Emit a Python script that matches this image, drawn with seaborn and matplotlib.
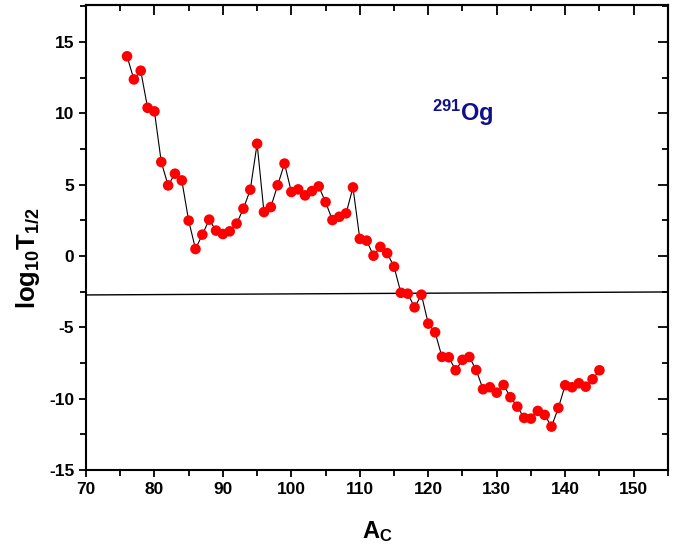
import numpy as np
import pandas as pd
import seaborn as sns
import matplotlib
matplotlib.use("Agg")
import matplotlib.pyplot as plt
from matplotlib.ticker import MultipleLocator

# cluster mass number A_c and log10 half-life for 291Og
a_c = list(range(76, 146))
log_t = [14.0, 12.38, 12.99, 10.39, 10.14, 6.59, 4.95, 5.77, 5.30, 2.48,
         0.49, 1.50, 2.55, 1.78, 1.54, 1.73, 2.27, 3.32, 4.65, 7.87,
         3.08, 3.43, 4.96, 6.48, 4.49, 4.67, 4.25, 4.55, 4.88, 3.78,
         2.52, 2.75, 2.99, 4.81, 1.20, 1.08, 0.02, 0.64, 0.20, -0.75,
         -2.58, -2.64, -3.60, -2.71, -4.74, -5.35, -7.07, -7.10, -8.01, -7.28,
         -7.08, -7.99, -9.34, -9.20, -9.58, -9.04, -9.90, -10.56, -11.35, -11.40,
         -10.86, -11.14, -11.96, -10.65, -9.06, -9.20, -8.92, -9.16, -8.64, -8.01]

# reference level line (slightly tilted, as drawn in the original)
ref_x = [70, 155]
ref_y = [-2.73, -2.52]

df = pd.DataFrame({"A": a_c, "logT": log_t})

sns.set_theme(style="ticks")
plt.rcParams["font.family"] = ["Liberation Sans", "DejaVu Sans"]
plt.rcParams["mathtext.fontset"] = "custom"
plt.rcParams["mathtext.rm"] = "Liberation Sans:bold"
plt.rcParams["mathtext.it"] = "Liberation Sans:bold"
plt.rcParams["mathtext.bf"] = "Liberation Sans:bold"
plt.rcParams["axes.unicode_minus"] = False
plt.rcParams["text.color"] = "black"
plt.rcParams["axes.labelcolor"] = "black"
plt.rcParams["xtick.color"] = "black"
plt.rcParams["ytick.color"] = "black"

fig = plt.figure(figsize=(6.85, 5.5), dpi=100)
ax = fig.add_axes([0.1255, 0.1455, 0.8495, 0.8455])

ax.plot(ref_x, ref_y, color="black", lw=1.0, zorder=1)
sns.lineplot(data=df, x="A", y="logT", ax=ax, color="black", lw=0.8, zorder=2)
sns.scatterplot(data=df, x="A", y="logT", ax=ax, color="red", s=58,
                edgecolor="none", zorder=3)

ax.set_xlim(70, 155)
ax.set_ylim(-15, 17.6)
ax.xaxis.set_major_locator(MultipleLocator(10))
ax.xaxis.set_minor_locator(MultipleLocator(5))
ax.yaxis.set_major_locator(MultipleLocator(5))
ax.yaxis.set_minor_locator(MultipleLocator(2.5))

for s in ax.spines.values():
    s.set_linewidth(1.5)
    s.set_color("black")

ax.tick_params(which="both", direction="out", width=1.3, color="black",
               labelcolor="black", labelsize=12.5)
ax.tick_params(which="major", length=5)
ax.tick_params(which="minor", length=4)
for lab in ax.get_xticklabels() + ax.get_yticklabels():
    lab.set_fontweight("bold")

# mirrored inward ticks on top and right
axt = ax.secondary_xaxis("top")
axt.xaxis.set_major_locator(MultipleLocator(10))
axt.xaxis.set_minor_locator(MultipleLocator(5))
axt.tick_params(which="both", direction="in", width=1.3, labeltop=False)
axt.tick_params(which="major", length=7)
axt.tick_params(which="minor", length=4)
axr = ax.secondary_yaxis("right")
axr.yaxis.set_major_locator(MultipleLocator(5))
axr.yaxis.set_minor_locator(MultipleLocator(2.5))
axr.tick_params(which="both", direction="in", width=1.3, labelright=False)
axr.tick_params(which="major", length=7)
axr.tick_params(which="minor", length=4)
for sec in (axt, axr):
    for s in sec.spines.values():
        s.set_linewidth(1.5)

ax.set_xlabel(r"$\mathbf{A_C}$", fontsize=17, labelpad=16)
ax.set_ylabel(r"$\mathbf{log_{10}T_{1/2}}$", fontsize=18.5)
ax.yaxis.set_label_coords(-0.076, 0.455)

ax.text(120.5, 9.5, r"$\mathbf{^{291}Og}$", fontsize=17, color="#10108a",
        ha="left", va="baseline")

fig.savefig("out.png", dpi=100)
